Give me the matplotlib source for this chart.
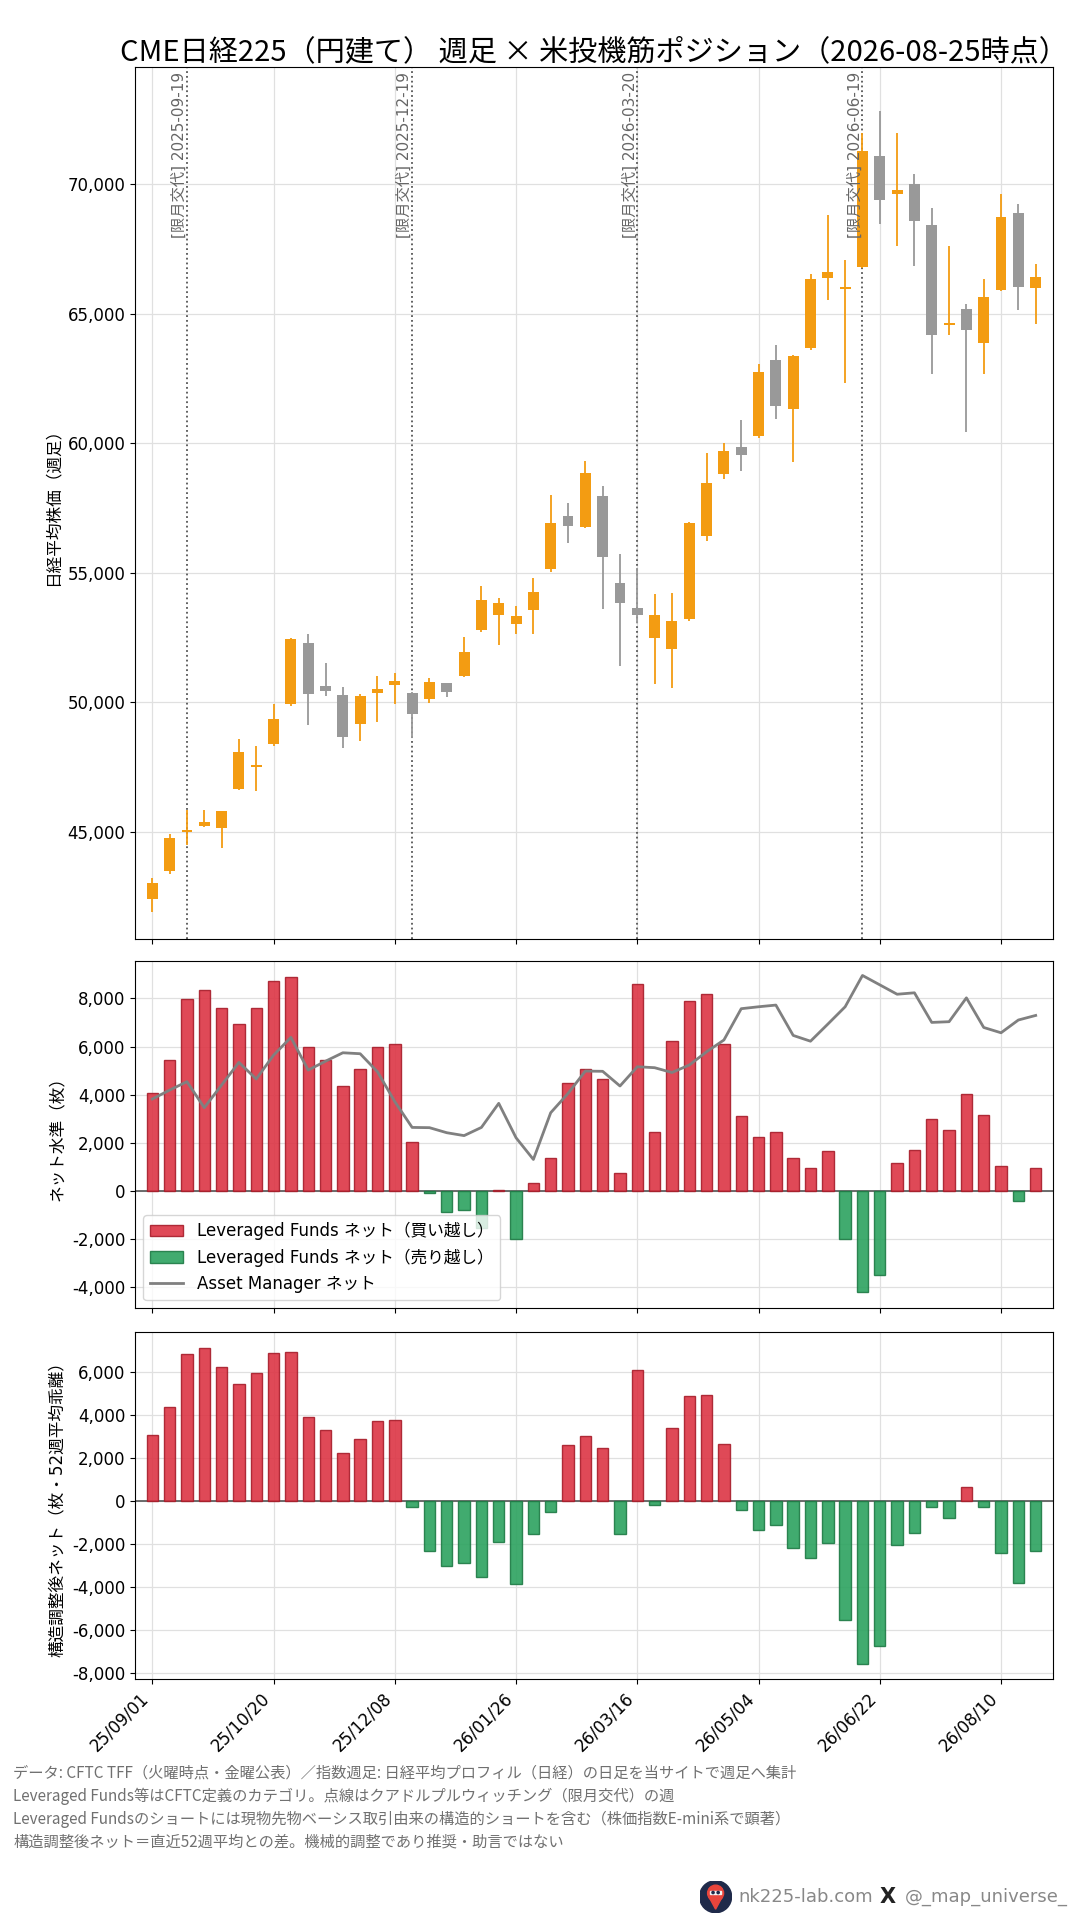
import matplotlib
matplotlib.use('Agg')
import matplotlib.pyplot as plt
import matplotlib.dates as mdates
from matplotlib.ticker import FuncFormatter
from matplotlib.patches import Circle, Polygon
import numpy as np
import pandas as pd

plt.rcParams['font.family'] = ['DejaVu Sans', 'Noto Sans CJK JP']
plt.rcParams['font.size'] = 12
plt.rcParams['axes.unicode_minus'] = False

JP = ['Noto Sans CJK JP', 'DejaVu Sans']

# weekly candles (Monday of each week)
weeks = pd.date_range('2025-09-01', periods=52, freq='7D')

opens = [42400, 43480, 44990, 45220, 45140, 46670, 47500, 48390, 49930, 52310,
         50650, 50300, 49160, 50350, 50660, 50380, 50120, 50730, 51020, 52790,
         53390, 53040, 53580, 55160, 57190, 56770, 57970, 54610, 53640, 52500,
         52070, 53230, 56440, 58830, 59870, 60270, 63200, 61320, 63680, 66390,
         65950, 66810, 71100, 69640, 70000, 68430, 64570, 65180, 63870, 65910,
         68890, 66000]
highs = [43220, 44920, 45850, 45850, 45820, 48590, 48320, 49940, 52480, 52650,
         51530, 50600, 50340, 51020, 51130, 50400, 50950, 50740, 52510, 54480,
         54040, 53730, 54790, 57990, 57680, 59310, 58340, 55710, 55200, 54170,
         54230, 56980, 59640, 60000, 60910, 63070, 63810, 63420, 66530, 68800,
         67060, 71970, 72830, 71970, 70390, 69070, 67610, 65360, 66340, 69610,
         69240, 66940]
lows = [41890, 43380, 44510, 45180, 44380, 46620, 46560, 48300, 49870, 49110,
        50250, 48240, 48510, 49250, 49940, 48640, 49980, 50210, 50990, 52730,
        52200, 52630, 52630, 55030, 56140, 56720, 53590, 51390, 53080, 50700,
        50540, 53140, 56220, 58610, 58950, 60210, 60940, 59290, 63590, 65550,
        62340, 66750, 68450, 67610, 66840, 62690, 64200, 60450, 62690, 65870,
        65140, 64620]
closes = [43040, 44780, 45090, 45400, 45790, 48100, 47600, 49340, 52430, 50320,
          50430, 48660, 50260, 50530, 50840, 49540, 50770, 50390, 51940, 53950,
          53840, 53330, 54260, 56920, 56810, 58860, 55620, 53850, 53390, 53370,
          53140, 56920, 58470, 59700, 59540, 62740, 61430, 63360, 66340, 66610,
          66030, 71290, 69410, 69780, 68590, 64180, 64630, 64380, 65640, 68740,
          66040, 66410]

# Leveraged Funds net / Asset Manager net / structural adjusted net
lf_net = [4050, 5460, 7990, 8330, 7580, 6920, 7580, 8700, 8870, 5960,
          5440, 4380, 5050, 5960, 6090, 2020, -100, -890, -800, -1550,
          40, -2010, 320, 1360, 4470, 5050, 4630, 730, 8580, 2430,
          6210, 7910, 8200, 6090, 3100, 2230, 2430, 1360, 940, 1650,
          -2010, -4200, -3500, 1150, 1690, 2970, 2520, 4010, 3140, 1020,
          -430, 940]
am_net = [3820, 4190, 4540, 3460, 4400, 5340, 4650, 5640, 6380, 5020,
          5390, 5740, 5700, 4950, 3710, 2640, 2630, 2420, 2300, 2640,
          3640, 2210, 1310, 3250, 4050, 4980, 4970, 4360, 5160, 5120,
          4920, 5230, 5780, 6270, 7570, 7650, 7720, 6460, 6220, 6930,
          7650, 8950, 8560, 8170, 8230, 7000, 7030, 8020, 6790, 6570,
          7100, 7290]
adj_net = [3070, 4370, 6840, 7120, 6230, 5440, 5950, 6880, 6930, 3910,
           3300, 2230, 2880, 3720, 3770, -280, -2330, -3020, -2880, -3530,
           -1910, -3860, -1540, -510, 2600, 3020, 2470, -1540, 6090, -190,
           3400, 4880, 4930, 2650, -420, -1350, -1120, -2190, -2650, -1950,
           -5530, -7580, -6740, -2050, -1490, -280, -790, 670, -280, -2420,
           -3810, -2330]

roll_dates = ['2025-09-19', '2025-12-19', '2026-03-20', '2026-06-19']

title = 'CME日経225（円建て） 週足 × 米投機筋ポジション（2026-08-25時点）'
footer = [
    'データ: CFTC TFF（火曜時点・金曜公表）／指数週足: 日経平均プロフィル（日経）の日足を当サイトで週足へ集計',
    'Leveraged Funds等はCFTC定義のカテゴリ。点線はクアドルプルウィッチング（限月交代）の週',
    'Leveraged Fundsのショートには現物先物ベーシス取引由来の構造的ショートを含む（株価指数E-mini系で顕著）',
    '構造調整後ネット＝直近52週平均との差。機械的調整であり推奨・助言ではない',
]

UP = '#F39C12'
DOWN = '#999999'
RED = '#dc3545'
GREEN = '#2ca25f'
GRID = '#e0e0e0'

x = mdates.date2num(weeks)
o = np.array(opens); h = np.array(highs); l = np.array(lows); c = np.array(closes)
lf = np.array(lf_net); am = np.array(am_net); adj = np.array(adj_net)

fig = plt.figure(figsize=(10.8, 19.2), dpi=100)
ax1 = fig.add_axes([0.125, 0.511, 0.85, 0.454])
ax2 = fig.add_axes([0.125, 0.3186, 0.85, 0.181], sharex=ax1)
ax3 = fig.add_axes([0.125, 0.1254, 0.85, 0.181], sharex=ax1)

yfmt = FuncFormatter(lambda v, p: '{:,.0f}'.format(v))

# --- candles
cols = [UP if cc >= oo else DOWN for oo, cc in zip(o, c)]
ax1.vlines(x, l, h, colors=cols, lw=1.3, zorder=2)
ax1.bar(x, np.abs(c - o), bottom=np.minimum(o, c), width=4.4, color=cols, zorder=3)

for d in roll_dates:
    dt = pd.Timestamp(d)
    wk = dt - pd.Timedelta(days=dt.weekday())
    ax1.axvline(wk, color='#555555', ls=':', lw=1.3, zorder=1.5)
    ax1.text(mdates.date2num(wk), 0.995, '[限月交代] {}'.format(d),
             transform=ax1.get_xaxis_transform(), rotation=90,
             ha='right', va='top', fontsize=11, color='#666666')

ax1.set_ylim(40870, 74520)
ax1.set_yticks([45000, 50000, 55000, 60000, 65000, 70000])
ax1.yaxis.set_major_formatter(yfmt)
ax1.set_ylabel('日経平均株価（週足）')
ax1.set_title(title, fontsize=21, family=JP, pad=4.5)

# --- net positions
pos = lf >= 0
b_long = ax2.bar(x[pos], lf[pos], width=4.6, color=RED, alpha=0.9, edgecolor='#a71d2a',
                 lw=1, zorder=3, label='Leveraged Funds ネット（買い越し）')
b_short = ax2.bar(x[~pos], lf[~pos], width=4.6, color=GREEN, alpha=0.9, edgecolor='#1e7a45',
                  lw=1, zorder=3, label='Leveraged Funds ネット（売り越し）')
am_line, = ax2.plot(x, am, color='#808080', lw=2, zorder=4, label='Asset Manager ネット')
ax2.axhline(0, color='#555555', lw=1.2, zorder=2)
ax2.set_ylim(-4870, 9560)
ax2.set_yticks(np.arange(-4000, 8001, 2000))
ax2.yaxis.set_major_formatter(yfmt)
ax2.set_ylabel('ネット水準（枚）')
ax2.legend(handles=[b_long, b_short, am_line], loc='lower left', fontsize=12)

# --- structural adjusted net
pos3 = adj >= 0
ax3.bar(x[pos3], adj[pos3], width=4.6, color=RED, alpha=0.9, edgecolor='#a71d2a', lw=1, zorder=3)
ax3.bar(x[~pos3], adj[~pos3], width=4.6, color=GREEN, alpha=0.9, edgecolor='#1e7a45', lw=1, zorder=3)
ax3.axhline(0, color='#555555', lw=1.2, zorder=2)
ax3.set_ylim(-8280, 7860)
ax3.set_yticks(np.arange(-8000, 6001, 2000))
ax3.yaxis.set_major_formatter(yfmt)
ax3.set_ylabel('構造調整後ネット（枚・52週平均乖離）')

for ax in (ax1, ax2, ax3):
    ax.grid(True, color=GRID, lw=0.9, zorder=0)
    ax.set_axisbelow(True)

ax3.set_xlim(x[0] - 7, x[-1] + 7)
ax3.set_xticks(x[::7])
ax3.xaxis.set_major_formatter(mdates.DateFormatter('%y/%m/%d'))
ax1.tick_params(labelbottom=False)
ax2.tick_params(labelbottom=False)
plt.setp(ax3.get_xticklabels(), rotation=45, ha='right')

# --- footer
for i, line in enumerate(footer):
    fig.text(0.0124, 1 - (1773 + 23 * i) / 1920, line, fontsize=11,
             family=JP, color='#707070', va='center', ha='left')

# --- credits
icon = fig.add_axes([(715.6 - 16) / 1080, (1920 - 1896.7 - 16) / 1920, 32 / 1080, 32 / 1920])
icon.set_xlim(-1, 1); icon.set_ylim(-1, 1); icon.axis('off')
icon.add_patch(Circle((0, 0), 1, color='#1f2a4a'))
icon.add_patch(Circle((0, 0.22), 0.5, color='#e8453c'))
icon.add_patch(Polygon([[-0.42, 0.0], [0.42, 0.0], [0, -0.78]], color='#e8453c'))
icon.add_patch(Polygon([[-0.36, 0.14], [0.36, 0.14], [0.36, 0.38], [-0.36, 0.38]], color='#f3f3f3'))
icon.add_patch(Circle((-0.16, 0.26), 0.07, color='#1f2a4a'))
icon.add_patch(Circle((0.16, 0.26), 0.07, color='#1f2a4a'))

cy = 1 - 1896.7 / 1920
fig.text(738 / 1080, cy, 'nk225-lab.com', fontsize=13, color='#888888', va='center', ha='left')
fig.text(880 / 1080, cy, 'X', fontsize=15, fontweight='bold', color='#222222', va='center', ha='left')
fig.text(905 / 1080, cy, '@_map_universe_', fontsize=13, color='#888888', va='center', ha='left')

fig.savefig('out.png', dpi=100)
